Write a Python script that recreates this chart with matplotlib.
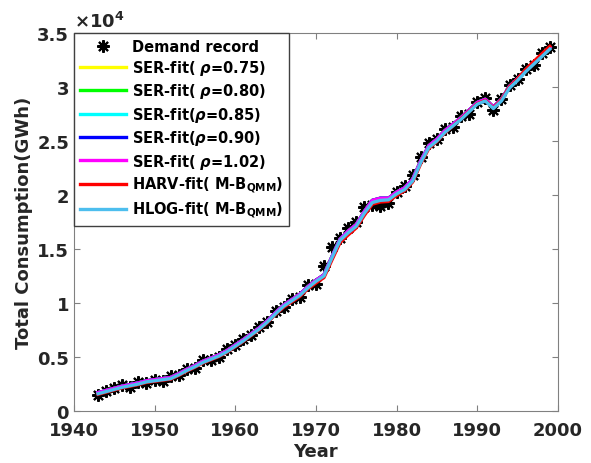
import matplotlib

matplotlib.use("Agg")
import matplotlib.pyplot as plt
from matplotlib.ticker import FuncFormatter, MultipleLocator

years = list(range(1943, 2000))

# demand record (GWh)
demand = [1500, 1900, 2100, 2400, 2200, 2700, 2600, 2900, 2800, 3200,
          3300, 3900, 4000, 4700, 4700, 5000, 5700, 6100, 6700, 7000,
          7800, 8200, 9300, 9600, 10400, 10600, 11700, 11800, 13400, 15200,
          16000, 16900, 17500, 18900, 19100, 19000, 19300, 20300, 20800, 21800,
          23500, 24800, 25200, 26100, 26300, 27300, 27500, 28600, 29000, 27900,
          28900, 30200, 30700, 31700, 32000, 33100, 33700]

# SER fits lie on top of each other
ser_fit = [1700, 1900, 2100, 2300, 2450, 2600, 2800, 2900, 3000, 3100,
           3450, 3850, 4200, 4600, 4900, 5200, 5600, 6100, 6600, 7150,
           7700, 8350, 9100, 9800, 10300, 10800, 11500, 12100, 12600, 14300,
           15900, 16650, 17250, 18450, 19500, 19700, 19700, 20250, 20650, 21450,
           23150, 24550, 25150, 25950, 26550, 27150, 27850, 28550, 28850, 28150,
           28850, 30050, 30750, 31550, 32250, 32950, 33650]

harv_fit = [1550, 1750, 1950, 2150, 2300, 2450, 2650, 2750, 2850, 2950,
            3300, 3700, 4050, 4450, 4750, 5050, 5450, 5950, 6450, 7000,
            7550, 8200, 8950, 9600, 10100, 10600, 11300, 11850, 12350, 14000,
            15600, 16300, 16950, 18100, 19150, 19350, 19400, 19950, 20400, 21200,
            22900, 24300, 24950, 25750, 26400, 27050, 27750, 28450, 28750, 28050,
            28800, 30000, 30750, 31600, 32350, 33050, 33750]

hlog_fit = [1600, 1800, 2000, 2200, 2350, 2500, 2700, 2800, 2900, 3000,
            3350, 3750, 4100, 4500, 4800, 5100, 5500, 6000, 6500, 7050,
            7600, 8250, 9000, 9700, 10200, 10700, 11400, 12000, 12500, 14200,
            15800, 16500, 17100, 18300, 19300, 19500, 19550, 20100, 20500, 21300,
            23000, 24400, 25000, 25800, 26400, 27000, 27700, 28400, 28700, 28000,
            28700, 29900, 30600, 31400, 32100, 32800, 33500]

ser_colors = ["#FFFF00", "#00FF00", "#00FFFF", "#0000FF", "#FF00FF"]
ser_labels = ["SER-fit( $\\rho$=0.75)", "SER-fit( $\\rho$=0.80)",
              "SER-fit($\\rho$=0.85)", "SER-fit($\\rho$=0.90)",
              "SER-fit( $\\rho$=1.02)"]

plt.rcParams["font.family"] = "DejaVu Sans"
plt.rcParams["font.weight"] = "bold"
plt.rcParams["axes.labelweight"] = "bold"

fig = plt.figure(figsize=(5.91, 4.64), dpi=100)
ax = fig.add_axes([0.125, 0.112, 0.819, 0.815])

# asterisk marker like the original '*' record
ax.plot(years, demand, linestyle="none", marker=(8, 2, 0), color="black",
        markersize=9, markeredgewidth=1.5, label="Demand record")
for c, lab in zip(ser_colors, ser_labels):
    ax.plot(years, ser_fit, color=c, linewidth=2.4, label=lab)
ax.plot(years, harv_fit, color="#FF0000", linewidth=2.4,
        label="HARV-fit( M-B$_{\\mathrm{QMM}}$)")
ax.plot(years, hlog_fit, color="#4DBEEE", linewidth=2.4,
        label="HLOG-fit( M-B$_{\\mathrm{QMM}}$)")

ax.set_xlim(1940, 2000)
ax.set_ylim(0, 35000)
ax.xaxis.set_major_locator(MultipleLocator(10))
ax.yaxis.set_major_locator(MultipleLocator(5000))
ax.yaxis.set_major_formatter(FuncFormatter(lambda v, p: f"{v / 1e4:g}"))
ax.tick_params(direction="in", top=True, right=True, length=4,
               color="#808080", labelsize=13, labelcolor="#262626")
ax.tick_params(axis="x", pad=7)
for s in ax.spines.values():
    s.set_color("#808080")
ax.text(0, 1.005, "$\\times 10^4$", transform=ax.transAxes, fontsize=13,
        ha="left", va="bottom", color="#262626")

ax.set_xlabel("Year", fontsize=13, color="#262626", labelpad=2)
ax.set_ylabel("Total Consumption(GWh)", fontsize=13, color="#262626", labelpad=3)

leg = ax.legend(loc="upper left", borderaxespad=0, fontsize=10.5,
                handlelength=3.2, handletextpad=0.4, labelspacing=0.3,
                borderpad=0.4, fancybox=False, edgecolor="#404040",
                framealpha=1)
leg.get_frame().set_linewidth(1.0)

fig.savefig("out.png", dpi=100)
